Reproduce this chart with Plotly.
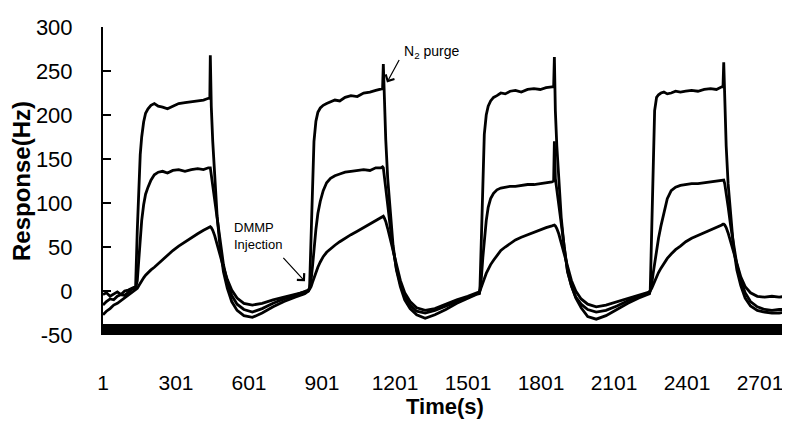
import plotly.graph_objects as go

# time axis (s)
time_s = [
    1, 15, 30, 45, 60, 75, 90, 105, 120, 135,
    142, 148, 154, 160, 168, 176, 186, 198, 212, 228, 246, 266, 288, 312, 338, 364, 390, 414, 434, 440,
    442, 446, 452, 460, 470, 482, 496, 512, 530, 552, 580, 615, 655, 700, 745, 790, 830, 845,
    850, 856, 862, 868, 876, 884, 894, 906, 920, 936, 954, 974, 996, 1020, 1046, 1072, 1098, 1122, 1144, 1150,
    1153, 1157, 1163, 1171, 1181, 1193, 1207, 1223, 1241, 1263, 1290, 1325, 1365, 1410, 1455, 1500, 1535, 1548,
    1550, 1556, 1562, 1568, 1576, 1584, 1594, 1606, 1620, 1636, 1654, 1674, 1696, 1720, 1746, 1772, 1798, 1822, 1846, 1853,
    1856, 1860, 1866, 1874, 1884, 1896, 1910, 1926, 1944, 1966, 1993, 2028, 2068, 2113, 2158, 2203, 2235, 2247,
    2250, 2256, 2262, 2268, 2276, 2284, 2294, 2306, 2320, 2336, 2354, 2374, 2396, 2420, 2446, 2472, 2498, 2522, 2544, 2549,
    2552, 2556, 2562, 2570, 2580, 2592, 2606, 2622, 2640, 2662, 2690, 2720, 2750, 2780, 2805,
]

# sensor response A (fast, high)
resp_a = [
    -4, -2, -6, -3, -1, -4, 0, 1, 3, 5,
    70, 120, 155, 175, 192, 202, 207, 211, 213, 210, 209, 207, 210, 213, 214, 215, 216, 217, 219, 219,
    268, 210, 170, 125, 85, 50, 22, 3, -12, -22, -28, -30, -25, -18, -12, -7, -3, 0,
    4, 60, 130, 170, 193, 203, 208, 211, 213, 215, 217, 216, 220, 222, 221, 225, 226, 228, 229, 230,
    258, 215, 172, 128, 88, 52, 24, 5, -10, -20, -27, -31, -27, -21, -14, -8, -4, -3,
    2, 60, 135, 178, 200, 210, 216, 220, 222, 225, 224, 227, 228, 226, 229, 230, 229, 231, 232, 232,
    266, 205, 165, 122, 84, 50, 23, 6, -8, -19, -29, -32, -28, -21, -14, -8, -4, -3,
    1, 70, 150, 205, 220, 223, 225, 226, 224, 225, 227, 226, 227, 228, 227, 229, 230, 229, 232, 232,
    260, 205, 165, 122, 84, 50, 24, 6, -8, -17, -22, -24, -25, -25, -24,
]

# sensor response B (middle)
resp_b = [
    -16, -12, -9, -10, -6, -4, -5, -1, 2, 3,
    12, 35, 60, 80, 98, 110, 118, 126, 132, 135, 136, 134, 137, 138, 136, 138, 139, 138, 140, 140,
    140, 132, 120, 102, 80, 55, 30, 10, -5, -15, -21, -24, -20, -14, -9, -5, -1, 1,
    3, 12, 28, 48, 70, 88, 102, 114, 123, 128, 131, 133, 135, 136, 137, 138, 137, 140, 140, 141,
    140, 132, 118, 98, 74, 48, 25, 8, -6, -16, -23, -25, -22, -17, -12, -7, -4, -2,
    1, 15, 38, 60, 80, 95, 105, 111, 115, 117, 118, 119, 119, 120, 121, 121, 122, 123, 124, 125,
    170, 128, 115, 95, 72, 46, 22, 6, -7, -15, -21, -24, -22, -17, -11, -6, -3, -2,
    1, 8, 20, 32, 46, 60, 74, 90, 105, 114, 118, 120, 121, 122, 122, 123, 124, 125, 126, 126,
    126, 122, 112, 96, 75, 52, 30, 12, -2, -12, -18, -21, -22, -21, -21,
]

# sensor response C (slow, low)
resp_c = [
    -27, -23, -20, -16, -14, -11, -8, -5, -2, 1,
    3, 6, 9, 12, 15, 18, 21, 24, 27, 31, 36, 41, 46, 51, 56, 61, 65, 69, 72, 73,
    73, 72, 69, 63, 54, 41, 27, 13, 1, -8, -14, -16, -14, -10, -7, -4, -1, 0,
    2, 5, 10, 15, 21, 27, 33, 39, 44, 48, 52, 56, 60, 64, 68, 72, 76, 80, 83, 84,
    85, 83, 79, 71, 60, 45, 28, 12, -2, -12, -19, -22, -20, -15, -10, -6, -3, -1,
    0, 4, 9, 14, 20, 25, 30, 35, 40, 46, 50, 54, 58, 61, 64, 67, 70, 72, 74, 75,
    75, 74, 71, 65, 55, 42, 27, 12, 0, -9, -15, -18, -16, -12, -8, -4, -2, -1,
    0, 3, 7, 11, 16, 21, 26, 31, 37, 42, 47, 51, 56, 60, 63, 66, 69, 72, 75, 76,
    76, 75, 72, 66, 56, 43, 29, 16, 5, -2, -6, -7, -6, -7, -6,
]

x_ticks = [1, 301, 601, 901, 1201, 1501, 1801, 2101, 2401, 2701]
y_ticks = [-50, 0, 50, 100, 150, 200, 250, 300]
y_tick_labels = ["-50", "0", "50", "100", "150", "200", "250", "300"]

FONT = "Liberation Sans, Arial, sans-serif"

fig = go.Figure()
for name, vals in [("A", resp_a), ("B", resp_b), ("C", resp_c)]:
    fig.add_trace(go.Scatter(x=time_s, y=vals, mode="lines", name=name,
                             line=dict(color="black", width=2.8), showlegend=False))

# the page body has an 8px margin, so the figure is sized to fit inside the window
fig.update_layout(
    width=782, height=411,
    margin=dict(l=95, r=3, t=19, b=82),
    plot_bgcolor="white", paper_bgcolor="white",
    font=dict(family=FONT, color="black"),
    showlegend=False,
)
fig.update_xaxes(
    range=[1, 2812], tickvals=x_ticks, ticktext=[str(v) for v in x_ticks],
    showgrid=False, zeroline=False, showline=False, ticks="",
    tickfont=dict(size=21, family=FONT, color="black"),
    ticklabelstandoff=33,
    title=dict(text="<b>Time(s)</b>", font=dict(size=22, family=FONT, color="black"), standoff=7),
)
fig.update_yaxes(
    range=[-50, 300], tickvals=y_ticks, ticktext=y_tick_labels,
    showgrid=False, zeroline=False, showline=True, linewidth=2, linecolor="black",
    ticks="inside", ticklen=8, tickwidth=2, tickcolor="black",
    tickfont=dict(size=22, family=FONT, color="black"),
    ticklabelstandoff=24,
    title=dict(text="<b>Response(Hz)</b>", font=dict(size=24, family=FONT, color="black"), standoff=2),
)

# thick bottom bar along the x axis
fig.add_shape(type="rect", xref="x domain", yref="y domain", x0=0, x1=1, y0=0, y1=0.036,
              fillcolor="black", line=dict(width=0), layer="above")

# annotations
fig.add_annotation(x=1168, y=237, xref="x", yref="y", ax=13, ay=-24, text="",
                   showarrow=True, arrowhead=4, arrowsize=1.6, arrowwidth=1.2, arrowcolor="black")
fig.add_annotation(x=1349, y=272, xref="x", yref="y", text="N<sub>2</sub> purge",
                   showarrow=False, font=dict(size=14, family=FONT, color="black"))
fig.add_annotation(x=831, y=11, xref="x", yref="y", ax=-23, ay=-25, text="",
                   showarrow=True, arrowhead=4, arrowsize=1.6, arrowwidth=1.2, arrowcolor="black")
fig.add_annotation(x=638, y=62, xref="x", yref="y", text="DMMP<br>Injection",
                   showarrow=False, align="left", font=dict(size=13, family=FONT, color="black"))

fig.write_html("out.html")
